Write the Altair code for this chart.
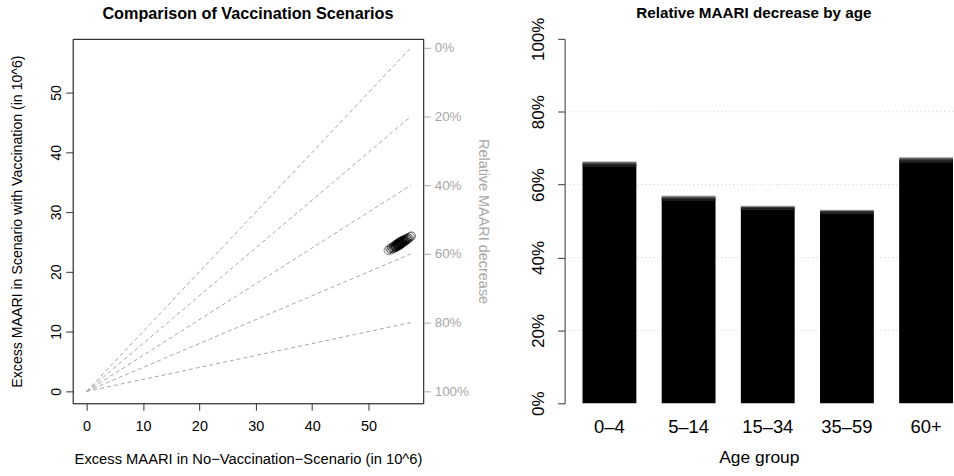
import altair as alt
import pandas as pd

FONT = "Liberation Sans"
GRAY = "#a6a6a6"

# --- scenario comparison: simulated excess MAARI (millions) ---
no_vacc = [53.5, 53.8, 54.0, 54.1, 54.3, 54.4, 54.5, 54.6, 54.7, 54.7, 54.8, 54.9,
           54.9, 55.0, 55.0, 55.1, 55.1, 55.2, 55.2, 55.3, 55.3, 55.3, 55.4, 55.4,
           55.5, 55.5, 55.5, 55.6, 55.6, 55.6, 55.7, 55.7, 55.7, 55.8, 55.8, 55.9,
           55.9, 56.0, 56.0, 56.1, 56.1, 56.2, 56.2, 56.3, 56.4, 56.4, 56.5, 56.6,
           56.7, 56.8, 56.9, 57.0, 57.2, 57.4, 57.6]
with_vacc = [23.6, 23.9, 23.7, 24.1, 23.85, 24.25, 23.95, 24.3, 24.05, 24.45, 24.2, 24.55,
             24.1, 24.35, 24.65, 24.25, 24.6, 24.4, 24.75, 24.35, 24.6, 24.85, 24.5, 24.8,
             24.45, 24.7, 24.95, 24.55, 24.8, 25.0, 24.6, 24.9, 25.1, 24.7, 25.05, 24.75,
             25.15, 24.85, 25.2, 24.9, 25.25, 25.0, 25.3, 25.05, 25.4, 25.1, 25.2, 25.5,
             25.3, 25.6, 25.4, 25.7, 25.6, 25.9, 26.0]

# reference lines of constant relative decrease
decrease_levels = [0.0, 0.2, 0.4, 0.6, 0.8]
line_end = 57.5
pct_ticks = [0.0, 0.2, 0.4, 0.6, 0.8, 1.0]
count_ticks = [0, 10, 20, 30, 40, 50]

# --- relative decrease by age group (lower / upper of the simulated range) ---
age_groups = ["0\u20134", "5\u201314", "15\u201334", "35\u201359", "60+"]
decrease_lo = [0.650, 0.556, 0.532, 0.521, 0.660]
decrease_hi = [0.664, 0.570, 0.542, 0.531, 0.676]
grid_levels = [0.2, 0.4, 0.6, 0.8]

x_dom = [-2.47, 59.7]
y_dom = [-2.0, 59.0]
# right-hand axis: relative decrease p sits at height (1 - p) * line_end
p_dom = [1 - y_dom[1] / line_end, 1 - y_dom[0] / line_end]

pts = pd.DataFrame({"nv": no_vacc, "wv": with_vacc})
ref = pd.DataFrame({"p": decrease_levels})
ref["x0"] = 0.0
ref["y0"] = 0.0
ref["x1"] = line_end
ref["y1"] = [(1 - p) * line_end for p in decrease_levels]
ticks_df = pd.DataFrame({"p": pct_ticks})

W1, H = 352, 366
W2 = 390

xs = alt.Scale(domain=x_dom, nice=False, zero=False)
ys = alt.Scale(domain=y_dom, nice=False, zero=False)

lines = alt.Chart(ref).mark_rule(color=GRAY, strokeDash=[4, 3], strokeWidth=1).encode(
    x=alt.X("x0:Q", scale=xs,
            axis=alt.Axis(values=count_ticks, title="Excess MAARI in No\u2212Vaccination\u2212Scenario (in 10^6)",
                          domain=False, grid=False, tickSize=7, tickColor="#333", labelPadding=9,
                          labelFontSize=14.5, titleFontSize=14.8, titlePadding=19, labelColor="#000",
                          titleFontWeight="normal", titleColor="#000")),
    y=alt.Y("y0:Q", scale=ys,
            axis=alt.Axis(values=count_ticks, title="Excess MAARI in Scenario with Vaccination (in 10^6)",
                          domain=False, grid=False, tickSize=7, tickColor="#333", labelAngle=270,
                          labelAlign="center", labelBaseline="bottom", labelPadding=2,
                          labelFontSize=14, titleFontSize=14.2, titlePadding=25, labelColor="#000",
                          titleFontWeight="normal", titleColor="#000")),
    x2="x1:Q",
    y2="y1:Q",
)

points = alt.Chart(pts).mark_point(shape="circle", filled=False, color="black",
                                   strokeWidth=1, opacity=0.5, size=70).encode(
    x=alt.X("nv:Q", scale=xs),
    y=alt.Y("wv:Q", scale=ys),
)

scatter = alt.layer(lines, points)

right_axis = alt.Chart(ticks_df).mark_tick(opacity=0).encode(
    y=alt.Y("p:Q", scale=alt.Scale(domain=p_dom, reverse=True, nice=False, zero=False),
            axis=alt.Axis(orient="right", values=pct_ticks, format=".0%", title="Relative MAARI decrease",
                          domain=False, grid=False, tickSize=7, tickColor=GRAY, labelColor=GRAY,
                          titleColor=GRAY, labelPadding=4, labelFontSize=13.5, titleFontSize=14.5,
                          titleFontWeight="normal", titlePadding=7)),
)

left = alt.layer(scatter, right_axis).resolve_scale(y="independent").properties(
    width=W1, height=H,
    view=alt.ViewBackground(stroke="black", strokeWidth=1),
    title=alt.TitleParams("Comparison of Vaccination Scenarios", fontSize=16.3, fontWeight="bold",
                          font=FONT, anchor="middle", offset=17),
)

# --- bar panel ---
bars_base = pd.DataFrame({"age": age_groups, "lo": decrease_lo})
rows = []
n_layers = 8
for a, lo, hi in zip(age_groups, decrease_lo, decrease_hi):
    for k in range(1, n_layers + 1):
        rows.append({"age": a, "lo": lo, "top": lo + (hi - lo) * k / n_layers})
bars_fade = pd.DataFrame(rows)
grid_df = pd.DataFrame({"v": grid_levels})

xb = alt.X("age:N", sort=age_groups,
           scale=alt.Scale(paddingInner=0.32, paddingOuter=0.113, align=1),
           axis=alt.Axis(title="Age group", labelAngle=0, domain=False, ticks=False,
                         labelFontSize=18.5, titleFontSize=17.5, labelPadding=14, titlePadding=13,
                         titleFontWeight="normal", labelColor="#000", titleColor="#000"))
yscale = alt.Scale(domain=[0, 1], nice=False, zero=True)

grid = alt.Chart(grid_df).mark_rule(color="#cccccc", strokeDash=[1, 3], strokeWidth=1).encode(
    y=alt.Y("v:Q", scale=yscale),
)

base_bars = alt.Chart(bars_base).mark_bar(color="black").encode(
    x=xb,
    y=alt.Y("lo:Q", scale=yscale,
            axis=alt.Axis(values=pct_ticks, format=".0%", title=None, grid=False, domain=True,
                          domainColor="#333", tickColor="#333", tickSize=7, labelAngle=270,
                          labelAlign="center", labelBaseline="bottom", labelPadding=10,
                          labelFontSize=17, labelColor="#000")),
)

fade_bars = alt.Chart(bars_fade).mark_bar(color="black", opacity=0.28).encode(
    x=alt.X("age:N", sort=age_groups),
    y=alt.Y("lo:Q", scale=yscale),
    y2="top:Q",
)

right = alt.layer(grid, base_bars, fade_bars).properties(
    width=W2, height=H,
    title=alt.TitleParams("Relative MAARI decrease by age", fontSize=15.3, fontWeight="bold",
                          font=FONT, anchor="middle", offset=-4.5, dx=-5),
)

chart = alt.hconcat(left, right, spacing=38).configure(
    font=FONT,
    padding={"left": 10, "top": 4, "right": 0, "bottom": 0},
).configure_view(
    stroke=None,
).configure_axis(
    labelFont=FONT, titleFont=FONT,
)

chart.save("out.html", embed_options={"renderer": "svg", "actions": False})
